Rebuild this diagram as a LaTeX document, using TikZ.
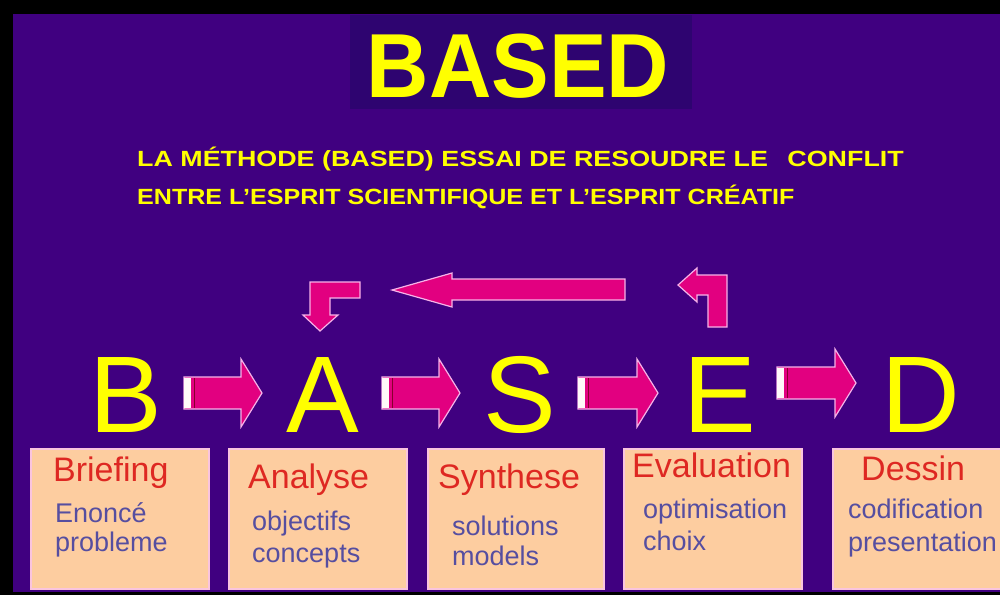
\documentclass[tikz,border=0pt]{standalone}
\usepackage{fontspec}
\setmainfont{Liberation Sans}
\usetikzlibrary{positioning}
\definecolor{bgpurple}{RGB}{64,0,128}
\definecolor{titlebox}{RGB}{46,4,112}
\definecolor{signyellow}{RGB}{255,255,0}
\definecolor{arrowpink}{RGB}{226,0,128}
\definecolor{arrowedge}{RGB}{246,178,232}
\definecolor{boxpeach}{RGB}{253,205,160}
\definecolor{boxedge}{RGB}{250,196,222}
\definecolor{titlered}{RGB}{222,40,34}
\definecolor{lineblue}{RGB}{86,78,160}
\def\blockarrow(#1,#2)(#3) %Syntax: (tail x, centre y)(tip x)
{ \fill[arrowpink,draw=arrowedge,line width=1.2pt] (#1,#2-16)--(#3-21,#2-16)--(#3-21,#2-34)--(#3,#2)--(#3-21,#2+34)--(#3-21,#2+16)--(#1,#2+16)--cycle;
  \fill[white!90!pink] (#1,#2-15) rectangle (#1+7,#2+15);
  \draw[purple!70!black,line width=1pt] (#1+10,#2-15)--(#1+10,#2+15); }

\begin{document}
\begin{tikzpicture}[x=1pt,y=-1pt,
	bigletter/.style={text=signyellow,font=\fontsize{109}{120}\selectfont,anchor=base,inner sep=0},
	subtitle/.style={text=signyellow,font=\fontsize{22}{26}\bfseries\selectfont,anchor=base west,inner sep=0},
	infobox/.style={draw=boxedge,fill=boxpeach,line width=1.5pt,anchor=north west,minimum width=178pt,minimum height=140pt,inner sep=0},
	boxtitle/.style={text=titlered,font=\fontsize{34}{40}\selectfont,anchor=base west,inner sep=0},
	boxline/.style={text=lineblue,font=\fontsize{27}{32}\selectfont,anchor=base west,inner sep=0},
	bentarrow/.style={fill=arrowpink,draw=arrowedge,line width=1.2pt}]
	\useasboundingbox (0,0) rectangle (1000,595);
	\clip (0,0) rectangle (1000,595);
	%background
	\fill[black] (0,0) rectangle (1000,595);
	\fill[bgpurple] (13,14) rectangle (1000,592);
	
	%title
	\fill[titlebox] (350,15) rectangle (692,109);
	\node[text=signyellow,font=\fontsize{91}{100}\bfseries\selectfont,anchor=base,inner sep=0] (title) at (518,97) {\scalebox{0.95}[1]{BASED}};
	\node[subtitle] (sub1) at (137,166) {\scalebox{1.22}[1]{LA MÉTHODE (BASED) ESSAI DE RESOUDRE LE\hspace{16pt}CONFLIT}};
	\node[subtitle] (sub2) at (137,204) {\scalebox{1.14}[1]{ENTRE L'ESPRIT SCIENTIFIQUE ET L'ESPRIT CRÉATIF}};
	
	%feedback arrows (E back to A)
	\path[bentarrow] (727,327)--(727,275)--(697,275)--(697,268)--(678,285)--(697,302)--(697,295)--(708,295)--(708,327)--cycle;
	\path[bentarrow] (625,279)--(452,279)--(452,273)--(392,290)--(452,307)--(452,300)--(625,300)--cycle;
	\path[bentarrow] (360,282)--(310,282)--(310,315)--(303,315)--(320,331)--(338,315)--(330,315)--(330,298)--(360,298)--cycle;
	
	%letters
	\node[bigletter] (B) at (126,432) {B};
	\node[bigletter] (A) at (323,432) {A};
	\node[bigletter] (S) at (520,432) {S};
	\node[bigletter] (E) at (720,432) {E};
	\node[bigletter] (D) at (921,432) {D};
	\blockarrow(184,393)(262)
	\blockarrow(382,393)(460)
	\blockarrow(578,393)(658)
	\blockarrow(777,383)(856)
	
	%boxes
	\node[infobox] (brief) at (30,448) {};
	\node[infobox] (anal) at (228,448) {};
	\node[infobox,minimum width=176pt] (synth) at (427,448) {};
	\node[infobox] (eval) at (623,448) {};
	\node[infobox,minimum width=180pt] (dess) at (832,448) {};
	%
	\node[boxtitle] (t1) at (53,481) {Briefing};
	\node[boxline] (l1a) at (55,522) {Enoncé};
	\node[boxline] (l1b) at (55,551) {probleme};
	%
	\node[boxtitle] (t2) at (248,488) {Analyse};
	\node[boxline] (l2a) at (252,530) {objectifs};
	\node[boxline] (l2b) at (252,562) {concepts};
	%
	\node[boxtitle] (t3) at (438,488) {Synthese};
	\node[boxline] (l3a) at (452,535) {solutions};
	\node[boxline] (l3b) at (452,565) {models};
	%
	\node[boxtitle] (t4) at (632,477) {Evaluation};
	\node[boxline] (l4a) at (643,518) {optimisation};
	\node[boxline] (l4b) at (643,550) {choix};
	%
	\node[boxtitle] (t5) at (861,480) {Dessin};
	\node[boxline] (l5a) at (848,518) {codification};
	\node[boxline] (l5b) at (848,551) {presentation};
\end{tikzpicture}
\end{document}
